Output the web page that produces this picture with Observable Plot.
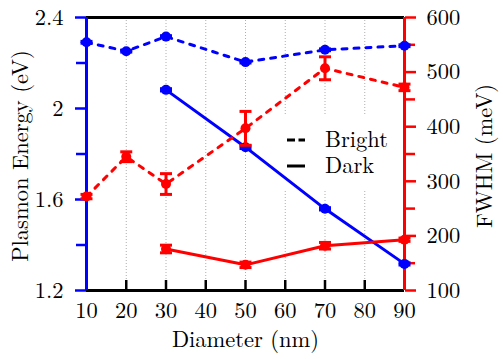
<!DOCTYPE html>
<html><head><meta charset="utf-8">
<script src="https://cdn.jsdelivr.net/npm/d3@7"></script>
<script src="https://cdn.jsdelivr.net/npm/@observablehq/plot@0.6"></script>
<style>body{margin:0;background:#fff;font-family:'Latin Modern Roman','Liberation Serif',serif}
svg text{font-family:'Latin Modern Roman','Liberation Serif',serif !important;}</style>
</head><body><div id="chart"></div>
<script>
// Data
const diamBright = [10, 20, 30, 50, 70, 90];
const diamDark = [30, 50, 70, 90];
const brightE = [2.291, 2.252, 2.316, 2.204, 2.258, 2.276];
const brightEErr = [0.004, 0.004, 0.004, 0.004, 0.004, 0.004];
const darkE = [2.082, 1.830, 1.559, 1.317];
const darkEErr = [0.005, 0.006, 0.005, 0.005];
const brightW = [272, 345, 295, 397, 507, 472];
const brightWErr = [4, 9, 19, 31, 21, 6];
const darkW = [176, 147, 182, 193];
const darkWErr = [7, 5, 6, 3];
const xTicks = [10, 20, 30, 40, 50, 60, 70, 80, 90];
const eTicks = [1.2, 1.6, 2, 2.4];
const eMinor = [1.4, 1.8, 2.2];
const wTicks = [100, 200, 300, 400, 500, 600];
const wMinor = [150, 250, 350, 450, 550];
const legendLabels = ["Bright", "Dark"];

// map FWHM (meV) to left-axis coordinates
const eDom = [1.2, 2.4], wDom = [100, 600];
const toE = w => eDom[0] + (w - wDom[0]) / (wDom[1] - wDom[0]) * (eDom[1] - eDom[0]);
const toW = e => wDom[0] + (e - eDom[0]) / (eDom[1] - eDom[0]) * (wDom[1] - wDom[0]);

const BLUE = "#0000ff", RED = "#ff0000";
const FONT = "'Latin Modern Roman', 'Liberation Serif', serif";
const FS = 22.5;

const mk = (xs, vals, errs, f) => xs.map((x, i) => ({x, y: f(vals[i]), lo: f(vals[i] - errs[i]), hi: f(vals[i] + errs[i])}));
const bE = mk(diamBright, brightE, brightEErr, v => v);
const dE = mk(diamDark, darkE, darkEErr, v => v);
const bW = mk(diamBright, brightW, brightWErr, toE);
const dW = mk(diamDark, darkW, darkWErr, toE);

const cap = {draw(ctx) { ctx.moveTo(-6, 0); ctx.lineTo(6, 0); }};

function series(data, color, dashed) {
  return [
    Plot.line(data, {x: "x", y: "y", stroke: color, strokeWidth: 3, strokeDasharray: dashed ? "5,7" : null}),
    Plot.ruleX(data, {x: "x", y1: "lo", y2: "hi", stroke: color, strokeWidth: 3}),
    Plot.dot(data, {x: "x", y: "lo", symbol: cap, stroke: color, strokeWidth: 3, fill: "none"}),
    Plot.dot(data, {x: "x", y: "hi", symbol: cap, stroke: color, strokeWidth: 3, fill: "none"}),
    Plot.dot(data, {x: "x", y: "y", r: 5, fill: color, stroke: null})
  ];
}

const chart = Plot.plot({
  width: 503, height: 359,
  marginLeft: 86, marginRight: 99, marginTop: 17, marginBottom: 69,
  style: {fontFamily: FONT, fontSize: FS + "px", color: "black", background: "white"},
  x: {domain: [10, 90]},
  y: {domain: eDom},
  marks: [
    Plot.gridX(xTicks, {stroke: "#999", strokeOpacity: 1, strokeWidth: 0.8, strokeDasharray: "1,2"}),
    Plot.ruleY([eDom[1]], {stroke: "black", strokeWidth: 3}),
    Plot.ruleY([eDom[0]], {stroke: "black", strokeWidth: 3}),
    Plot.axisX(xTicks, {anchor: "bottom", tickSize: -10, tickPadding: 22, stroke: "black", strokeWidth: 2.5, fontSize: FS, label: null, tickFormat: d => d}),
    Plot.ruleX([10], {stroke: BLUE, strokeWidth: 3}),
    Plot.ruleX([90], {stroke: RED, strokeWidth: 3}),
    Plot.axisY(eTicks, {anchor: "left", tickSize: 11, tickPadding: 12, stroke: BLUE, strokeWidth: 2.5, fontSize: FS, label: null, tickFormat: d => String(d)}),
    Plot.axisY(eMinor, {anchor: "left", tickSize: 10, stroke: BLUE, strokeWidth: 2.5, label: null, tickFormat: () => ""}),
    Plot.axisY(wTicks.map(toE), {anchor: "right", tickSize: 11, tickPadding: 11, stroke: RED, strokeWidth: 2.5, fontSize: FS, label: null, tickFormat: d => String(Math.round(toW(d)))}),
    Plot.axisY(wMinor.map(toE), {anchor: "right", tickSize: 10, stroke: RED, strokeWidth: 2.5, label: null, tickFormat: () => ""}),
    Plot.text(["Plasmon Energy (eV)"], {frameAnchor: "left", textAnchor: "middle", dx: -66, dy: 2, rotate: -90, fontSize: FS, fill: "black"}),
    Plot.text(["FWHM (meV)"], {frameAnchor: "right", textAnchor: "middle", dx: 80, dy: 2, rotate: -90, fontSize: FS, fill: "black"}),
    Plot.text(["Diameter (nm)"], {frameAnchor: "bottom", textAnchor: "middle", dy: 56, fontSize: FS, fill: "black"}),
    ...series(dE, BLUE, false),
    ...series(bE, BLUE, true),
    ...series(dW, RED, false),
    ...series(bW, RED, true)
  ]
});
document.getElementById("chart").appendChild(chart);

// legend, drawn just above the grid
const svg = d3.select(chart);
const grid = svg.select('g[aria-label="x-grid"]').node();
const lg = svg.insert("g", () => grid.nextSibling);
lg.append("rect").attr("x", 279).attr("y", 115).attr("width", 122).attr("height", 76).attr("fill", "white");
const rows = [{y: 140, dash: "8,3.5"}, {y: 166, dash: null}];
rows.forEach((r, i) => {
  lg.append("line").attr("x1", 287).attr("x2", 305).attr("y1", r.y).attr("y2", r.y)
    .attr("stroke", "black").attr("stroke-width", 3).attr("stroke-dasharray", r.dash);
  lg.append("text").attr("x", 325).attr("y", r.y + 7).attr("text-anchor", "start")
    .attr("font-size", FS).attr("fill", "black").text(legendLabels[i]);
});
// force the serif face on every text node
svg.selectAll("text").attr("font-family", FONT).style("font-family", FONT);
svg.selectAll("g").filter(function() { return this.hasAttribute("font-family"); }).attr("font-family", FONT);
</script>
</body></html>
